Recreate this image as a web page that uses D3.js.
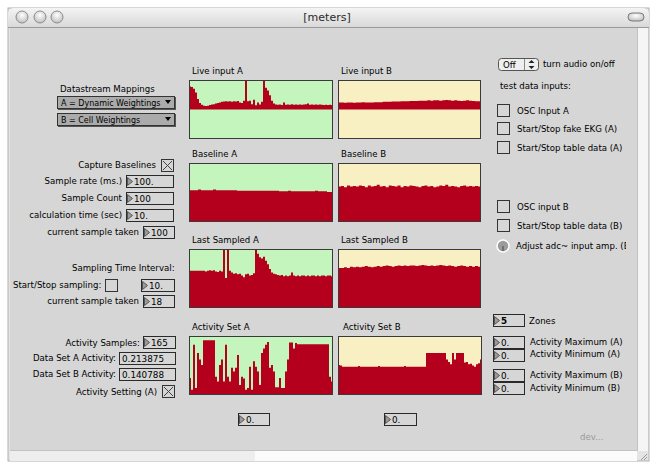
<!DOCTYPE html>
<html>
<head>
<meta charset="utf-8">
<script src="https://cdn.jsdelivr.net/npm/d3@7"></script>
<style>
  body { margin: 0; background: #fff; }
  svg text { font-family: "DejaVu Sans", sans-serif; font-size: 8.6px; fill: #000; }
</style>
</head>
<body>
<div id="patch"></div>
<script>
// ---- data (percent of box height; live inputs: percent of half height above centre)
const liveA = [78,76,70,58,36,22,16,13,12,13,15,17,18,20,22,24,26,27,28,27,28,26,28,27,
               29,24,22,30,100,28,30,18,33,14,24,17,26,98,74,64,48,30,20,17,16,17,15,24,
               16,17,16,18,16,17,16,17,16,17,18,20,16,17,16,17,16,17,16,15,16,15,16,15];
const liveB = [24,24,23,24,24,23,24,24,25,24,24,24,25,25,25,26,26,26,27,27,27,28,28,28,
               29,29,29,30,30,30,31,30,31,31,30,31,32,31,30,31,30,29,30,31,30,29,28,28];
const baseA = [54,54,54,55,54,54,54,54,55,54,54,54,54,54,54,54,53,53,53,53,53,53,53,53,
               53,53,53,53,53,53,52,52,52,53,52,52,52,52,52,52,52,52,53,52,52,52,51,51];
const baseB = [60,61,59,62,60,61,60,62,61,59,62,60,61,63,60,61,59,62,61,60,62,59,61,60,
               62,61,60,59,61,62,60,61,59,60,62,61,63,60,61,60,59,61,62,60,61,60,61,60];
const lastA = [63,63,63,63,63,63,63,63,62,63,64,63,64,62,61,63,62,100,51,100,63,60,58,59,
               57,58,55,52,57,58,55,56,59,100,92,86,84,87,80,74,66,60,58,57,56,55,56,54,
               55,54,55,60,55,54,55,54,55,55,54,55,54,55,55,54,55,54,55,55,54,55,55,54];
const lastB = [68,68,69,68,70,69,70,69,70,71,70,69,70,71,70,71,72,71,70,71,72,71,72,71,
               72,72,71,72,73,72,71,72,71,72,73,72,71,72,71,70,71,72,71,70,71,70,71,70];
const actA  = [29,9,85,12,71,60,51,93,93,93,93,93,93,31,23,51,60,23,85,31,23,46,40,46,
               68,17,31,28,9,12,48,9,57,48,40,17,71,79,85,90,46,51,40,13,13,29,12,12,
               40,60,89,89,79,88,86,86,86,86,86,86,86,86,86,86,86,86,86,86,86,86,31,23];
const actB  = [51,50,48,48,48,48,48,48,48,48,49,48,48,48,48,48,48,48,48,48,49,48,48,48,
               48,48,48,48,48,48,48,48,48,49,48,48,48,48,48,48,48,48,48,48,71,71,71,71,
               71,71,71,71,71,71,60,56,52,71,60,71,71,71,71,55,56,52,53,50,48,52,54,60];

const panels = [
  { label: "Live input A",   data: liveA, x: 189, y: 80,  w: 144, bg: "#c4f5bd", centred: true },
  { label: "Live input B",   data: liveB, x: 338, y: 80,  w: 143, bg: "#f8f0c2", centred: true },
  { label: "Baseline A",     data: baseA, x: 189, y: 163, w: 144, bg: "#c4f5bd" },
  { label: "Baseline B",     data: baseB, x: 338, y: 163, w: 143, bg: "#f8f0c2" },
  { label: "Last Sampled A", data: lastA, x: 189, y: 249, w: 144, bg: "#c4f5bd" },
  { label: "Last Sampled B", data: lastB, x: 338, y: 249, w: 143, bg: "#f8f0c2" },
  { label: "Activity Set A", data: actA,  x: 189, y: 336, w: 144, bg: "#c4f5bd" },
  { label: "Activity Set B", data: actB,  x: 338, y: 336, w: 144, bg: "#f8f0c2", lx: 343 }
];
const boxH = 59;
const red = "#b4001c";

const svg = d3.select("#patch").append("svg")
  .attr("width", 654).attr("height", 462);

const defs = svg.append("defs");
const tg = defs.append("linearGradient").attr("id", "titlebar").attr("x1", 0).attr("y1", 0).attr("x2", 0).attr("y2", 1);
tg.append("stop").attr("offset", "0%").attr("stop-color", "#f4f4f4");
tg.append("stop").attr("offset", "100%").attr("stop-color", "#d9d9d9");
const bg = defs.append("radialGradient").attr("id", "bubble").attr("cx", "50%").attr("cy", "35%").attr("r", "60%");
bg.append("stop").attr("offset", "0%").attr("stop-color", "#ffffff");
bg.append("stop").attr("offset", "100%").attr("stop-color", "#c4c4c4");

/* ── window frame ───────────────────────────── */
svg.append("rect").attr("x", 8).attr("y", 8).attr("width", 641).attr("height", 453)
  .attr("fill", "#e4e4e4").attr("stroke", "#b0b0b0");
svg.append("path")
  .attr("d", "M8,27 L8,14 Q8,8 14,8 L643,8 Q649,8 649,14 L649,27 Z")
  .attr("fill", "url(#titlebar)");
svg.append("line").attr("x1", 8).attr("x2", 649).attr("y1", 27.5).attr("y2", 27.5).attr("stroke", "#9a9a9a");
[22, 40, 57].forEach(cx => svg.append("circle").attr("cx", cx).attr("cy", 17).attr("r", 6)
  .attr("fill", "url(#bubble)").attr("stroke", "#8c8c8c"));
svg.append("rect").attr("x", 628).attr("y", 13).attr("width", 16).attr("height", 8).attr("rx", 4)
  .attr("fill", "url(#bubble)").attr("stroke", "#7a7a7a");
svg.append("text").attr("x", 327).attr("y", 21).attr("text-anchor", "middle")
  .style("font-size", "11px").style("fill", "#2a2a2a").text("[meters]");

// content area + scroll strips
svg.append("rect").attr("x", 10).attr("y", 28).attr("width", 627).attr("height", 422).attr("fill", "#d6d6d6");
svg.append("rect").attr("x", 637).attr("y", 28).attr("width", 11).attr("height", 423).attr("fill", "#f5f5f5");
svg.append("line").attr("x1", 637.5).attr("x2", 637.5).attr("y1", 28).attr("y2", 451).attr("stroke", "#c2c2c2");
svg.append("rect").attr("x", 10).attr("y", 450).attr("width", 245).attr("height", 11).attr("fill", "#eeeeee");
svg.append("rect").attr("x", 255).attr("y", 450).attr("width", 382).attr("height", 11).attr("fill", "#fbfbfb");
svg.append("line").attr("x1", 10).attr("x2", 637).attr("y1", 450.5).attr("y2", 450.5).attr("stroke", "#c2c2c2");
[0, 3, 6].forEach(o => svg.append("line")
  .attr("x1", 641 + o).attr("y1", 460).attr("x2", 647).attr("y2", 454 + o)
  .attr("stroke", "#9a9a9a"));

/* ── meters ─────────────────────────────────── */
panels.forEach((p, k) => {
  const g = svg.append("g");
  const xs = d3.scaleLinear().domain([0, p.data.length]).range([p.x, p.x + p.w]);
  const ys = p.centred
    ? d3.scaleLinear().domain([-100, 100]).range([p.y + boxH, p.y])
    : d3.scaleLinear().domain([0, 100]).range([p.y + boxH, p.y]);
  const pts = p.data.concat([p.data[p.data.length - 1]]);

  g.append("clipPath").attr("id", "clip" + k)
    .append("rect").attr("x", p.x).attr("y", p.y).attr("width", p.w).attr("height", boxH);

  svg.append("text").attr("x", p.lx || p.x + 3).attr("y", p.y - 6).text(p.label);

  g.append("rect").attr("x", p.x).attr("y", p.y).attr("width", p.w).attr("height", boxH).attr("fill", p.bg);
  g.append("path").datum(pts)
    .attr("clip-path", `url(#clip${k})`)
    .attr("fill", red)
    .attr("d", d3.area()
      .curve(d3.curveStepAfter)
      .x((d, i) => xs(i))
      .y0(ys(0))
      .y1(d => ys(d)));
  g.append("rect").attr("x", p.x + 0.5).attr("y", p.y + 0.5).attr("width", p.w - 1).attr("height", boxH - 1)
    .attr("fill", "none").attr("stroke", "#3a3a3a");
});

/* ── control helpers ────────────────────────── */
function label(x, y, txt, anchor) {
  return svg.append("text").attr("x", x).attr("y", y).attr("text-anchor", anchor || "start").text(txt);
}
function numbox(x, y, w, txt, opts = {}) {
  const g = svg.append("g");
  g.append("rect").attr("x", x + 0.5).attr("y", y + 0.5).attr("width", w - 1).attr("height", 12)
    .attr("fill", "#d6d6d6").attr("stroke", "#2a2a2a");
  let tx = x + 3;
  if (opts.tri !== false) {
    g.append("path").attr("d", `M${x + 1.5},${y + 2.5} L${x + 6.5},${y + 6.5} L${x + 1.5},${y + 10.5} Z`)
      .attr("fill", "#9a9a9a").attr("stroke", "#555");
    tx = x + 8;
  }
  g.append("text").attr("x", tx).attr("y", y + 10).style("font-size", "8.8px")
    .style("font-weight", opts.bold ? "bold" : null).text(txt);
}
function toggle(x, y, on) {
  svg.append("rect").attr("x", x + 0.5).attr("y", y + 0.5).attr("width", 12).attr("height", 12)
    .attr("fill", "#d6d6d6").attr("stroke", "#333");
  if (on) {
    svg.append("path").attr("d", `M${x + 2},${y + 2} L${x + 11},${y + 11} M${x + 11},${y + 2} L${x + 2},${y + 11}`)
      .attr("stroke", "#444").attr("stroke-width", 1);
  }
}
function umenu(x, y, w, txt) {
  svg.append("rect").attr("x", x + 1).attr("y", y + 1).attr("width", w).attr("height", 13).attr("fill", "#555");
  svg.append("rect").attr("x", x + 0.5).attr("y", y + 0.5).attr("width", w - 1).attr("height", 12)
    .attr("fill", "#ababab").attr("stroke", "#333");
  svg.append("text").attr("x", x + 4).attr("y", y + 10).style("font-size", "8px").text(txt);
  svg.append("path").attr("d", `M${x + w - 10},${y + 4} L${x + w - 4},${y + 4} L${x + w - 7},${y + 8} Z`).attr("fill", "#000");
}

/* ── left column ────────────────────────────── */
label(60, 92, "Datastream Mappings");
umenu(57, 96, 118, "A = Dynamic Weightings");
umenu(57, 113, 118, "B = Cell Weightings");

label(156, 168, "Capture Baselines", "end"); toggle(161, 159, true);
label(122, 184, "Sample rate (ms.)", "end"); numbox(126, 175, 48, "100.");
label(122, 201, "Sample Count", "end"); numbox(126, 192, 48, "100");
label(122, 218, "calculation time (sec)", "end"); numbox(126, 209, 48, "10.");
label(139, 235, "current sample taken", "end"); numbox(143, 226, 32, "100");

label(72, 271, "Sampling Time Interval:");
label(13, 288, "Start/Stop sampling:"); toggle(105, 279, false); numbox(141, 279, 34, "10.");
label(139, 304, "current sample taken", "end"); numbox(143, 295, 32, "18");

label(140, 346, "Activity Samples:", "end"); numbox(143, 336, 33, "165");
label(116, 361, "Data Set A Activity:", "end"); numbox(119, 352, 57, "0.213875", { tri: false });
label(116, 377, "Data Set B Activity:", "end"); numbox(119, 368, 57, "0.140788", { tri: false });
label(157, 395, "Activity Setting (A)", "end"); toggle(162, 385, true);

numbox(238, 413, 32, "0.");
numbox(384, 413, 33, "0.");

/* ── right column ───────────────────────────── */
svg.append("rect").attr("x", 498.5).attr("y", 58.5).attr("width", 40).attr("height", 12).attr("rx", 3)
  .attr("fill", "#efefef").attr("stroke", "#555");
svg.append("line").attr("x1", 524.5).attr("x2", 524.5).attr("y1", 59).attr("y2", 70).attr("stroke", "#888");
label(503, 68, "Off");
svg.append("path").attr("d", "M528.5,63 L531.5,60 L534.5,63 Z M528.5,66 L531.5,69 L534.5,66 Z").attr("fill", "#222");
label(543, 67, "turn audio on/off");
label(500, 89, "test data inputs:");

[[104, "OSC Input A"], [122, "Start/Stop fake EKG (A)"], [141, "Start/Stop table data (A)"],
 [200, "OSC input B"], [219, "Start/Stop table data (B)"]].forEach(([y, t]) => {
  toggle(497, y, false);
  label(517, y + 10, t);
});
svg.append("circle").attr("cx", 503).attr("cy", 246).attr("r", 6).attr("fill", "#9c9c9c").attr("stroke", "#fff").attr("stroke-width", 1.5);
svg.append("line").attr("x1", 503).attr("x2", 503).attr("y1", 246).attr("y2", 251).attr("stroke", "#444");
svg.append("clipPath").attr("id", "clipAdc").append("rect").attr("x", 510).attr("y", 238).attr("width", 116).attr("height", 14);
label(516, 249, "Adjust adc~ input amp. (B)").attr("clip-path", "url(#clipAdc)");

numbox(493, 314, 32, "5", { bold: true }); label(529, 324, "Zones");
numbox(493, 336, 32, "0."); label(530, 345, "Activity Maximum (A)");
numbox(493, 349, 32, "0."); label(530, 357, "Activity Minimum (A)");
numbox(493, 369, 32, "0."); label(530, 378, "Activity Maximum (B)");
numbox(493, 382, 32, "0."); label(530, 391, "Activity Minimum (B)");

label(580, 440, "dev...").style("fill", "#9a9a9a");
</script>
</body>
</html>
